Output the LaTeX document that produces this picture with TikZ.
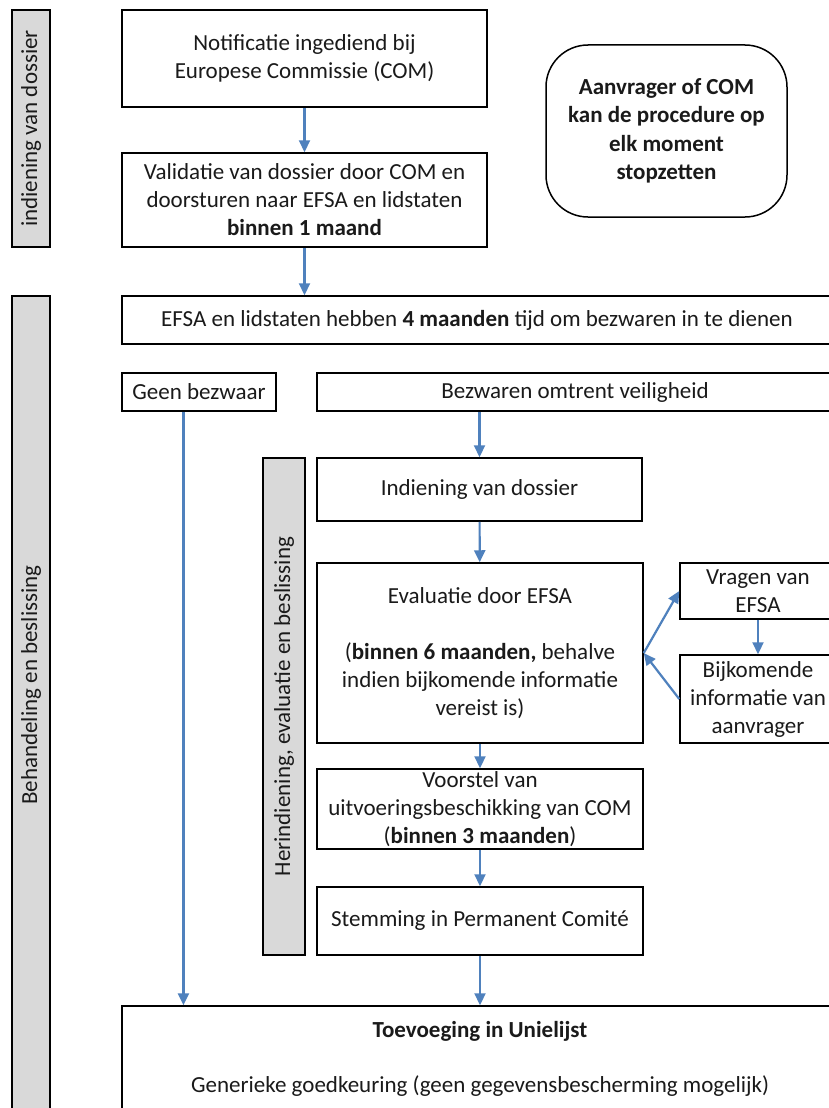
\documentclass[tikz,border=0pt]{standalone}
\usepackage{fontspec}
\setmainfont{Carlito}
\usetikzlibrary{arrows.meta,calc}
\definecolor{barfill}{HTML}{D9D9D9}
\definecolor{arrowblue}{HTML}{4F81BD}
\definecolor{inkc}{HTML}{1A1A1A}
\begin{document}
\begin{tikzpicture}[x=1pt,y=-1pt,
  txt/.style={font=\fontsize{23}{28}\selectfont, text=inkc},
  box/.style={txt, draw=black, line width=1.5pt, fill=white, align=center, inner sep=0pt},
  bar/.style={draw=black, line width=1.5pt, fill=barfill, inner sep=0pt},
  bartext/.style={txt, rotate=90, inner sep=0pt},
  arr/.style={draw=arrowblue, line width=2.2pt, -{Triangle[length=12pt,width=11pt]}}]
\clip (0,0) rectangle (829,1108);
\fill[white] (0,0) rectangle (829,1108);
% side bars
\node[bar, minimum width=38pt, minimum height=237pt] (bar1) at (31,128.5) {};
\node[bartext] (bar1t) at (bar1.center) {indiening van dossier};
\node[bar, minimum width=38pt, minimum height=834pt] (bar2) at (31,713) {};
\node[bartext] (bar2t) at (31,685) {Behandeling en beslissing};
\node[bar, minimum width=42pt, minimum height=497pt] (bar3) at (284,706.5) {};
\node[bartext] (bar3t) at (bar3.center) {Herindiening, evaluatie en beslissing};
% boxes
\node[box, minimum width=365pt, minimum height=97pt] (notif) at (304.5,58.5) {Notificatie ingediend bij\\Europese Commissie (COM)};
\node[box, minimum width=365pt, minimum height=94pt] (valid) at (304.5,200) {Validatie van dossier door COM en\\doorsturen naar EFSA en lidstaten\\\textbf{binnen 1 maand}};
\node[box, rounded corners=42pt, minimum width=241pt, minimum height=172pt, font=\bfseries\fontsize{23}{28.5}\selectfont] (aanvr) at (666.5,131) {Aanvrager of COM\\kan de procedure op\\elk moment\\stopzetten};
\node[box, minimum width=710pt, minimum height=48pt] (efsa) at (477,320) {EFSA en lidstaten hebben \textbf{4 maanden} tijd om bezwaren in te dienen};
\node[box, minimum width=154pt, minimum height=38pt] (geen) at (199,392) {Geen bezwaar};
\node[box, minimum width=516pt, minimum height=38pt] (bezw) at (575,392) {Bezwaren omtrent veiligheid};
\node[box, minimum width=325pt, minimum height=63pt] (indien) at (479.5,489.5) {Indiening van dossier};
\node[box, minimum width=326pt, minimum height=180pt] (eval) at (480,653) {Evaluatie door EFSA\\[28pt](\textbf{binnen 6 maanden,} behalve\\indien bijkomende informatie\\vereist is)};
\node[box, minimum width=156pt, minimum height=56pt] (vragen) at (758,591) {Vragen van\\EFSA};
\node[box, minimum width=156pt, minimum height=88pt] (bijk) at (758,699) {Bijkomende\\informatie van\\aanvrager};
\node[box, minimum width=326pt, minimum height=80pt] (voorstel) at (480,809) {Voorstel van\\uitvoeringsbeschikking van COM\\(\textbf{binnen 3 maanden})};
\node[box, minimum width=326pt, minimum height=68pt] (stem) at (480,921) {Stemming in Permanent Comité};
\node[box, minimum width=716pt, minimum height=106pt] (uni) at (480,1059) {\textbf{Toevoeging in Unielijst}\\[27pt]Generieke goedkeuring (geen gegevensbescherming mogelijk)};
% connectors
\coordinate (gbs) at ($(geen.south west)!0.4!(geen.south east)$);
\draw[arr] (notif) -- (valid);
\draw[arr] (valid.south) -- (valid.south |- efsa.north);
\draw[arr] (gbs) -- (gbs |- uni.north);
\draw[arr] (indien.north |- bezw.south) -- (indien.north);
\draw[arr] (indien) -- (eval);
\draw[arr] (eval) -- (voorstel);
\draw[arr] (voorstel) -- (stem);
\draw[arr] (stem.south) -- (stem.south |- uni.north);
\draw[arr] (vragen) -- (bijk);
\draw[arr] (eval.east) -- (vragen.west);
\draw[arr] (bijk.west) -- (eval.east);
\end{tikzpicture}
\end{document}
